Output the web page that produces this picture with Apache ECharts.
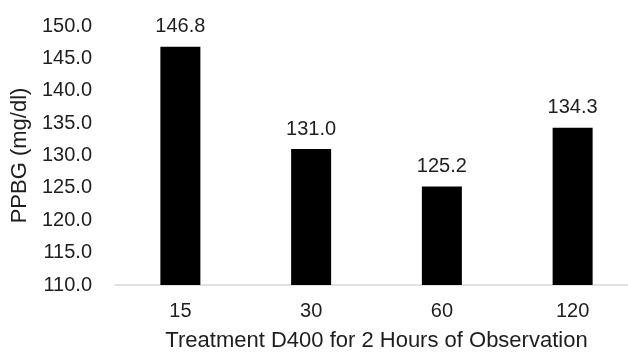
<!DOCTYPE html>
<html><head><meta charset="utf-8">
<script src="https://cdn.jsdelivr.net/npm/echarts@6/dist/echarts.min.js"></script>
<style>html,body{margin:0;padding:0;background:#fff}#c{width:628px;height:352px}</style>
</head><body><div id="c"></div>
<script>
const categories = ['15', '30', '60', '120'];
const values = [146.8, 131.0, 125.2, 134.3];
const yMin = 110, yMax = 150, yStep = 5;
const xTitle = 'Treatment D400 for 2 Hours of Observation';
const yTitle = 'PPBG (mg/dl)';

const font = 'Liberation Sans, Arial, sans-serif';
const txt = '#1e1e1e';
const chart = echarts.init(document.getElementById('c'));
chart.setOption({
  animation: false,
  grid: {left: 115, top: 26, width: 523, height: 259, containLabel: false, outerBoundsMode: 'none'},
  xAxis: {
    type: 'category', data: categories,
    axisLine: {lineStyle: {color: '#d9d9d9', width: 1.5}},
    axisTick: {show: false},
    axisLabel: {color: txt, fontFamily: font, fontSize: 20, margin: 16},
    name: xTitle, nameLocation: 'middle', nameGap: 45,
    nameTextStyle: {color: txt, fontFamily: font, fontSize: 22}
  },
  yAxis: {
    type: 'value', min: yMin, max: yMax, interval: yStep,
    splitLine: {show: false},
    axisLine: {show: false}, axisTick: {show: false},
    axisLabel: {color: txt, fontFamily: font, fontSize: 20, margin: 23,
      formatter: v => v.toFixed(1)},
    name: yTitle, nameLocation: 'middle', nameGap: 83, nameRotate: 90,
    nameTextStyle: {color: txt, fontFamily: font, fontSize: 22}
  },
  series: [{
    type: 'bar', data: values, barWidth: 40,
    itemStyle: {color: '#000'},
    label: {show: true, position: 'top', distance: 10, color: txt,
      fontFamily: font, fontSize: 20, formatter: p => p.value.toFixed(1)}
  }]
});
</script></body></html>
